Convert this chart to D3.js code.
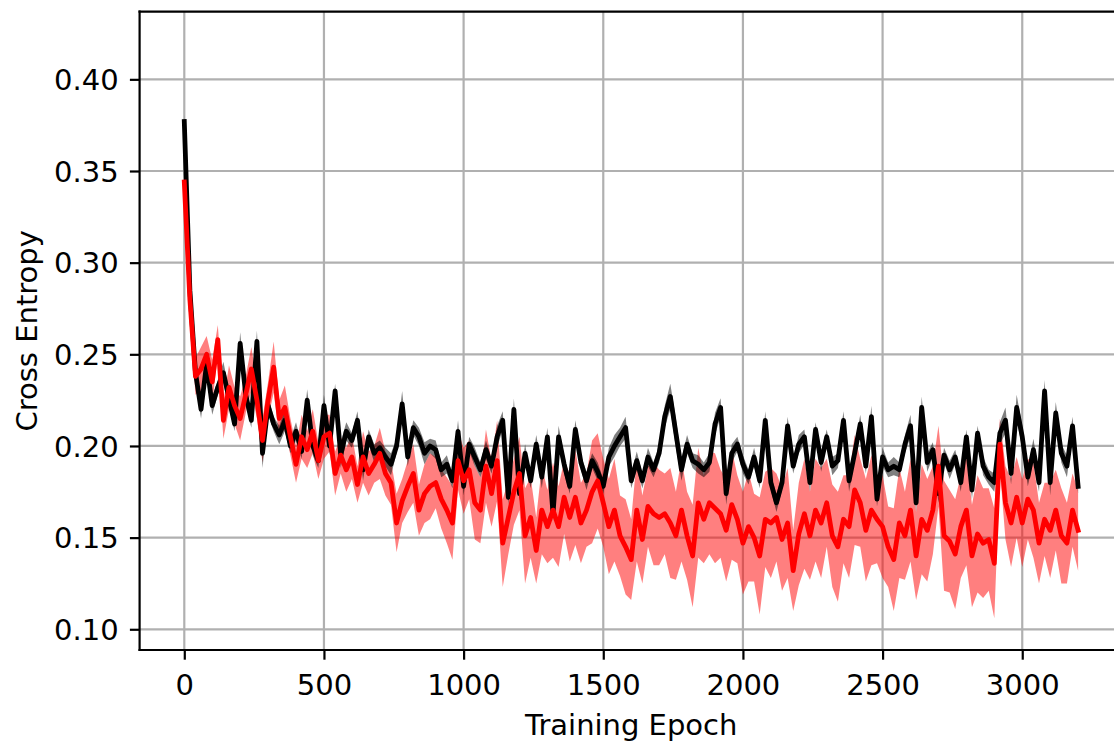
<!DOCTYPE html>
<html>
<head>
<meta charset="utf-8">
<script src="https://cdn.jsdelivr.net/npm/d3@7"></script>
<style>
  html, body { margin: 0; padding: 0; background: #fff; }
  svg { display: block; }
  text { font-family: "DejaVu Sans", sans-serif; fill: #000; }
</style>
</head>
<body>
<svg id="chart" width="1114" height="742"></svg>
<script>
// ---- data ----
const epochs = d3.range(0, 3201, 20);
const xTicks = [0, 500, 1000, 1500, 2000, 2500, 3000];
const yTicks = [0.10, 0.15, 0.20, 0.25, 0.30, 0.35, 0.40];
const xLabel = "Training Epoch";
const yLabel = "Cross Entropy";

const blackMean = [
  0.377, 0.285, 0.240, 0.220, 0.245, 0.222, 0.232, 0.240, 0.226, 0.212,
  0.256, 0.228, 0.214, 0.257, 0.196, 0.222, 0.212, 0.206, 0.214, 0.200,
  0.208, 0.197, 0.225, 0.200, 0.192, 0.222, 0.200, 0.230, 0.195, 0.208,
  0.203, 0.214, 0.187, 0.205, 0.196, 0.199, 0.194, 0.190, 0.200, 0.223,
  0.194, 0.210, 0.205, 0.196, 0.200, 0.198, 0.187, 0.190, 0.181, 0.208,
  0.178, 0.201, 0.194, 0.187, 0.198, 0.189, 0.205, 0.214, 0.172, 0.220,
  0.174, 0.196, 0.181, 0.201, 0.183, 0.205, 0.163, 0.205, 0.190, 0.178,
  0.209, 0.191, 0.181, 0.192, 0.186, 0.178, 0.194, 0.200, 0.205, 0.210,
  0.181, 0.192, 0.181, 0.194, 0.187, 0.196, 0.216, 0.227, 0.207, 0.187,
  0.201, 0.192, 0.190, 0.187, 0.191, 0.212, 0.221, 0.174, 0.196, 0.201,
  0.190, 0.183, 0.194, 0.181, 0.214, 0.180, 0.169, 0.180, 0.211, 0.189,
  0.201, 0.205, 0.180, 0.209, 0.191, 0.205, 0.189, 0.192, 0.214, 0.181,
  0.196, 0.212, 0.189, 0.216, 0.171, 0.194, 0.187, 0.189, 0.187, 0.201,
  0.211, 0.169, 0.221, 0.191, 0.198, 0.174, 0.195, 0.187, 0.194, 0.180,
  0.205, 0.176, 0.207, 0.189, 0.183, 0.180, 0.207, 0.214, 0.185, 0.221,
  0.205, 0.183, 0.198, 0.180, 0.230, 0.180, 0.218, 0.196, 0.189, 0.211,
  0.178
];
const blackSpread = [
  0.004, 0.008, 0.006, 0.005, 0.006, 0.005, 0.004, 0.006, 0.005, 0.004,
  0.006, 0.005, 0.004, 0.006, 0.008, 0.005, 0.004, 0.005, 0.006, 0.004,
  0.005, 0.004, 0.006, 0.005, 0.004, 0.006, 0.005, 0.004, 0.007, 0.005,
  0.004, 0.005, 0.006, 0.004, 0.005, 0.004, 0.005, 0.006, 0.004, 0.007,
  0.005, 0.004, 0.005, 0.006, 0.004, 0.005, 0.004, 0.005, 0.004, 0.006,
  0.005, 0.004, 0.005, 0.004, 0.005, 0.004, 0.006, 0.005, 0.004, 0.006,
  0.004, 0.005, 0.004, 0.005, 0.006, 0.005, 0.004, 0.006, 0.005, 0.004,
  0.005, 0.004, 0.005, 0.004, 0.005, 0.004, 0.005, 0.006, 0.005, 0.006,
  0.004, 0.005, 0.004, 0.005, 0.004, 0.005, 0.006, 0.007, 0.008, 0.006,
  0.005, 0.004, 0.005, 0.004, 0.005, 0.006, 0.005, 0.006, 0.005, 0.004,
  0.005, 0.004, 0.005, 0.004, 0.005, 0.004, 0.005, 0.004, 0.005, 0.004,
  0.005, 0.004, 0.005, 0.004, 0.005, 0.004, 0.005, 0.004, 0.005, 0.006,
  0.004, 0.005, 0.004, 0.006, 0.004, 0.005, 0.004, 0.005, 0.004, 0.005,
  0.006, 0.005, 0.006, 0.005, 0.004, 0.005, 0.004, 0.005, 0.004, 0.005,
  0.004, 0.005, 0.004, 0.005, 0.004, 0.005, 0.006, 0.007, 0.006, 0.007,
  0.006, 0.005, 0.006, 0.005, 0.006, 0.007, 0.006, 0.005, 0.006, 0.005,
  0.004
];
const redMean = [
  0.344, 0.280, 0.238, 0.242, 0.250, 0.235, 0.258, 0.214, 0.232, 0.222,
  0.215, 0.228, 0.242, 0.225, 0.203, 0.225, 0.243, 0.215, 0.221, 0.205,
  0.190, 0.205, 0.198, 0.208, 0.192, 0.205, 0.207, 0.185, 0.195, 0.187,
  0.194, 0.179, 0.194, 0.185, 0.190, 0.196, 0.185, 0.180, 0.158, 0.170,
  0.178, 0.185, 0.165, 0.174, 0.178, 0.180, 0.171, 0.165, 0.158, 0.192,
  0.181, 0.187, 0.169, 0.165, 0.189, 0.174, 0.192, 0.147, 0.161, 0.175,
  0.185, 0.151, 0.161, 0.143, 0.165, 0.156, 0.165, 0.156, 0.172, 0.161,
  0.172, 0.158, 0.165, 0.175, 0.181, 0.169, 0.156, 0.165, 0.151, 0.145,
  0.138, 0.165, 0.149, 0.167, 0.163, 0.161, 0.163, 0.158, 0.151, 0.165,
  0.151, 0.140, 0.169, 0.160, 0.169, 0.166, 0.163, 0.154, 0.168, 0.160,
  0.147, 0.156, 0.150, 0.140, 0.160, 0.158, 0.161, 0.149, 0.158, 0.132,
  0.152, 0.163, 0.151, 0.165, 0.158, 0.169, 0.151, 0.145, 0.160, 0.156,
  0.176, 0.169, 0.154, 0.165, 0.160, 0.156, 0.145, 0.138, 0.158, 0.151,
  0.165, 0.140, 0.160, 0.154, 0.165, 0.189, 0.151, 0.148, 0.141, 0.156,
  0.165, 0.140, 0.152, 0.147, 0.149, 0.136, 0.201, 0.169, 0.158, 0.172,
  0.158, 0.171, 0.165, 0.147, 0.160, 0.154, 0.165, 0.151, 0.147, 0.165,
  0.154
];
const redSpread = [
  0.006, 0.008, 0.010, 0.012, 0.010, 0.012, 0.008, 0.010, 0.012, 0.010,
  0.012, 0.010, 0.012, 0.010, 0.012, 0.010, 0.014, 0.010, 0.012, 0.010,
  0.010, 0.012, 0.010, 0.012, 0.010, 0.012, 0.010, 0.012, 0.010, 0.012,
  0.012, 0.010, 0.014, 0.012, 0.010, 0.014, 0.012, 0.012, 0.016, 0.012,
  0.014, 0.016, 0.014, 0.016, 0.018, 0.014, 0.016, 0.018, 0.020, 0.016,
  0.018, 0.016, 0.020, 0.018, 0.020, 0.018, 0.022, 0.024, 0.020, 0.018,
  0.020, 0.026, 0.022, 0.018, 0.024, 0.020, 0.026, 0.022, 0.020, 0.024,
  0.026, 0.022, 0.020, 0.028, 0.026, 0.024, 0.026, 0.028, 0.022, 0.026,
  0.022, 0.028, 0.024, 0.022, 0.028, 0.026, 0.022, 0.030, 0.024, 0.028,
  0.024, 0.028, 0.030, 0.024, 0.028, 0.030, 0.024, 0.028, 0.030, 0.024,
  0.028, 0.030, 0.024, 0.032, 0.026, 0.030, 0.024, 0.028, 0.030, 0.022,
  0.028, 0.030, 0.024, 0.028, 0.030, 0.024, 0.028, 0.030, 0.024, 0.028,
  0.030, 0.024, 0.028, 0.030, 0.024, 0.028, 0.022, 0.028, 0.030, 0.024,
  0.028, 0.024, 0.030, 0.028, 0.024, 0.022, 0.030, 0.028, 0.030, 0.028,
  0.030, 0.028, 0.032, 0.030, 0.028, 0.030, 0.014, 0.020, 0.024, 0.022,
  0.024, 0.022, 0.026, 0.022, 0.020, 0.026, 0.022, 0.026, 0.022, 0.020,
  0.022
];

// ---- layout ----
const W = 1114, H = 742;
const plot = { left: 139.6, right: 1122.8, top: 11.7, bottom: 650 };
const fontSize = 29;
const tickLen = 9.7;

const svg = d3.select("#chart");

const x = d3.scaleLinear().domain([-160, 3360]).range([plot.left, plot.right]);
const y = d3.scaleLinear().domain([0.0887, 0.4369]).range([plot.bottom, plot.top]);

svg.append("defs").append("clipPath").attr("id", "clip")
  .append("rect")
  .attr("x", plot.left).attr("y", plot.top)
  .attr("width", plot.right - plot.left).attr("height", plot.bottom - plot.top);

// grid
const grid = svg.append("g");
grid.selectAll("line.gx").data(xTicks).join("line")
  .attr("x1", d => x(d)).attr("x2", d => x(d))
  .attr("y1", plot.top).attr("y2", plot.bottom)
  .attr("stroke", "#b0b0b0").attr("stroke-width", 2.2);
grid.selectAll("line.gy").data(yTicks).join("line")
  .attr("y1", d => y(d)).attr("y2", d => y(d))
  .attr("x1", plot.left).attr("x2", plot.right)
  .attr("stroke", "#b0b0b0").attr("stroke-width", 2.2);

const blackData = epochs.map((e, i) => ({ e, m: blackMean[i], s: blackSpread[i] }));
const redData = epochs.map((e, i) => ({ e, m: redMean[i], s: redSpread[i] }));

const area = d3.area().x(d => x(d.e)).y0(d => y(d.m - d.s)).y1(d => y(d.m + d.s));
const line = d3.line().x(d => x(d.e)).y(d => y(d.m));

const marks = svg.append("g").attr("clip-path", "url(#clip)");
marks.append("path").datum(redData).attr("d", area)
  .attr("fill", "#ff0000").attr("fill-opacity", 0.5);
marks.append("path").datum(blackData).attr("d", area)
  .attr("fill", "#000000").attr("fill-opacity", 0.5);
marks.append("path").datum(blackData).attr("d", line)
  .attr("fill", "none").attr("stroke", "#000").attr("stroke-width", 4.8)
  .attr("stroke-linejoin", "round").attr("stroke-linecap", "square");
marks.append("path").datum(redData).attr("d", line)
  .attr("fill", "none").attr("stroke", "#ff0000").attr("stroke-width", 4.8)
  .attr("stroke-linejoin", "round").attr("stroke-linecap", "square");

// axes via d3
const xAxis = d3.axisBottom(x).tickValues(xTicks).tickSize(tickLen).tickPadding(9.7)
  .tickFormat(d3.format("d"));
const gx = svg.append("g").attr("transform", `translate(0,${plot.bottom})`).call(xAxis);
gx.select(".domain").remove();
gx.selectAll(".tick line").attr("stroke", "#000").attr("stroke-width", 2.2);
gx.selectAll(".tick text").attr("font-size", fontSize).attr("dy", null).attr("y", 45)
  .attr("font-family", "DejaVu Sans").attr("fill", "#000");

const yAxis = d3.axisLeft(y).tickValues(yTicks).tickSize(tickLen).tickPadding(9.7)
  .tickFormat(d3.format(".2f"));
const gy = svg.append("g").attr("transform", `translate(${plot.left},0)`).call(yAxis);
gy.select(".domain").remove();
gy.selectAll(".tick line").attr("stroke", "#000").attr("stroke-width", 2.2);
gy.selectAll(".tick text").attr("font-size", fontSize).attr("dy", "0.35em")
  .attr("x", -21).attr("font-family", "DejaVu Sans").attr("fill", "#000");

// spines
const sp = svg.append("g").attr("stroke", "#000").attr("stroke-width", 2.2).attr("fill", "none");
sp.append("line").attr("x1", plot.left).attr("x2", plot.left).attr("y1", plot.top - 1.1).attr("y2", plot.bottom + 1.1);
sp.append("line").attr("x1", plot.left - 1.1).attr("x2", plot.right).attr("y1", plot.bottom).attr("y2", plot.bottom);
sp.append("line").attr("x1", plot.left - 1.1).attr("x2", plot.right).attr("y1", plot.top).attr("y2", plot.top);
sp.append("line").attr("x1", plot.right).attr("x2", plot.right).attr("y1", plot.top).attr("y2", plot.bottom);

// labels
svg.append("text").attr("x", (plot.left + plot.right) / 2).attr("y", 735)
  .attr("text-anchor", "middle").attr("font-size", fontSize).text(xLabel);
svg.append("text").attr("transform", `translate(37,${(plot.top + plot.bottom) / 2}) rotate(-90)`)
  .attr("text-anchor", "middle").attr("font-size", fontSize).text(yLabel);
</script>
</body>
</html>
